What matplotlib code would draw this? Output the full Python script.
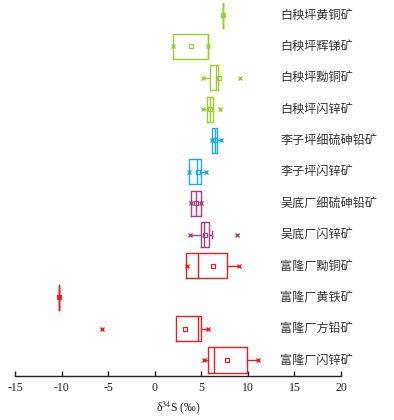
import matplotlib
matplotlib.use('Agg')
import matplotlib.pyplot as plt
import numpy as np

plt.rcParams['font.family'] = ['Liberation Serif', 'DejaVu Sans']
plt.rcParams['mathtext.fontset'] = 'stix'
plt.rcParams['axes.unicode_minus'] = False

# rows listed top to bottom
labels = ['白秧坪黄铜矿', '白秧坪辉锑矿', '白秧坪黝铜矿', '白秧坪闪锌矿',
          '李子坪细硫砷铅矿', '李子坪闪锌矿', '吴底厂细硫砷铅矿', '吴底厂闪锌矿',
          '富隆厂黝铜矿', '富隆厂黄铁矿', '富隆厂方铅矿', '富隆厂闪锌矿']
groups = ['白秧坪'] * 4 + ['李子坪'] * 2 + ['吴底厂'] * 2 + ['富隆厂'] * 4

q1 = [7.3, 2.0, 5.97, 5.65, 6.19, 3.68, 3.86, 5.0, 3.36, -10.24, 2.33, 5.69]
med = [7.3, 5.7, 6.58, 5.97, 6.47, 4.51, 4.43, 5.3, 4.62, -10.24, 4.65, 6.37]
q3 = [7.3, 5.7, 6.83, 6.23, 6.72, 4.94, 5.0, 5.83, 7.8, -10.24, 4.94, 9.88]
whislo = [7.3, 2.0, 5.19, 5.19, 6.19, 3.68, 3.86, 3.76, 3.43, -10.24, 2.33, 5.29]
whishi = [7.3, 5.7, 6.83, 6.23, 7.12, 5.54, 5.0, 6.19, 9.08, -10.24, 5.69, 11.06]
means = [7.3, 3.86, 6.87, 5.97, 6.47, 4.68, 4.43, 5.43, 6.22, -10.24, 3.25, 7.76]
xmarks = [[7.3], [2.0, 5.7], [5.19, 9.16], [5.19, 6.98], [6.19, 7.12], [3.68, 5.54],
          [3.86, 5.0], [3.76, 8.84], [3.43, 9.08], [-10.24], [-5.69, 5.69], [5.29, 11.06]]

colors = {'白秧坪': '#9ACD32', '李子坪': '#1CA8EE', '吴底厂': '#A3407F', '富隆厂': '#EC1C24'}

fig = plt.figure(figsize=(3.94, 4.20), dpi=100)
ax = fig.add_axes([0.038, 0.1048, 0.8274, 0.8952])

n = len(labels)
pos = np.arange(n, 0, -1)

for i in range(n):
    c = colors[groups[i]]
    st = [dict(q1=q1[i], med=med[i], q3=q3[i], whislo=whislo[i], whishi=whishi[i],
               mean=means[i], fliers=[])]
    ax.bxp(st, positions=[pos[i]], vert=False, widths=0.8, showmeans=True,
           showcaps=False, manage_ticks=False,
           boxprops=dict(color=c, lw=1.0),
           medianprops=dict(color=c, lw=1.0),
           whiskerprops=dict(color=c, lw=1.0),
           meanprops=dict(marker='s', markerfacecolor='none', markeredgecolor=c,
                          markersize=3.5, markeredgewidth=0.9))
    ax.plot(xmarks[i], [pos[i]] * len(xmarks[i]), ls='none', marker='x',
            color=c, markersize=3.5, markeredgewidth=1.0)
    ax.text(13.5, pos[i], labels[i], family=['Noto Sans CJK SC', 'DejaVu Sans'],
            fontsize=8.7, va='center', ha='left', color='#333333')

# cap on 吴底厂闪锌矿 right whisker
ax.plot([6.19, 6.19], [pos[7] - 0.12, pos[7] + 0.12], color=colors['吴底厂'], lw=1.0)

ax.set_xlim(-15, 20)
ax.set_ylim(0.49, 12.48)
ax.set_xticks(np.arange(-15, 21, 5))
ax.set_yticks([])
for s in ['top', 'right', 'left']:
    ax.spines[s].set_visible(False)
ax.spines['bottom'].set_linewidth(1.0)
ax.spines['bottom'].set_color('#222222')
ax.tick_params(axis='x', direction='in', length=3.5, width=1.0, labelsize=8.5,
               pad=4, colors='#222222')
ax.set_xlabel('δ$^{34}$S (‰)', fontsize=8.5, labelpad=4, color='#222222')
ax.patch.set_alpha(0)

fig.savefig('out.png', dpi=100, facecolor='white')
